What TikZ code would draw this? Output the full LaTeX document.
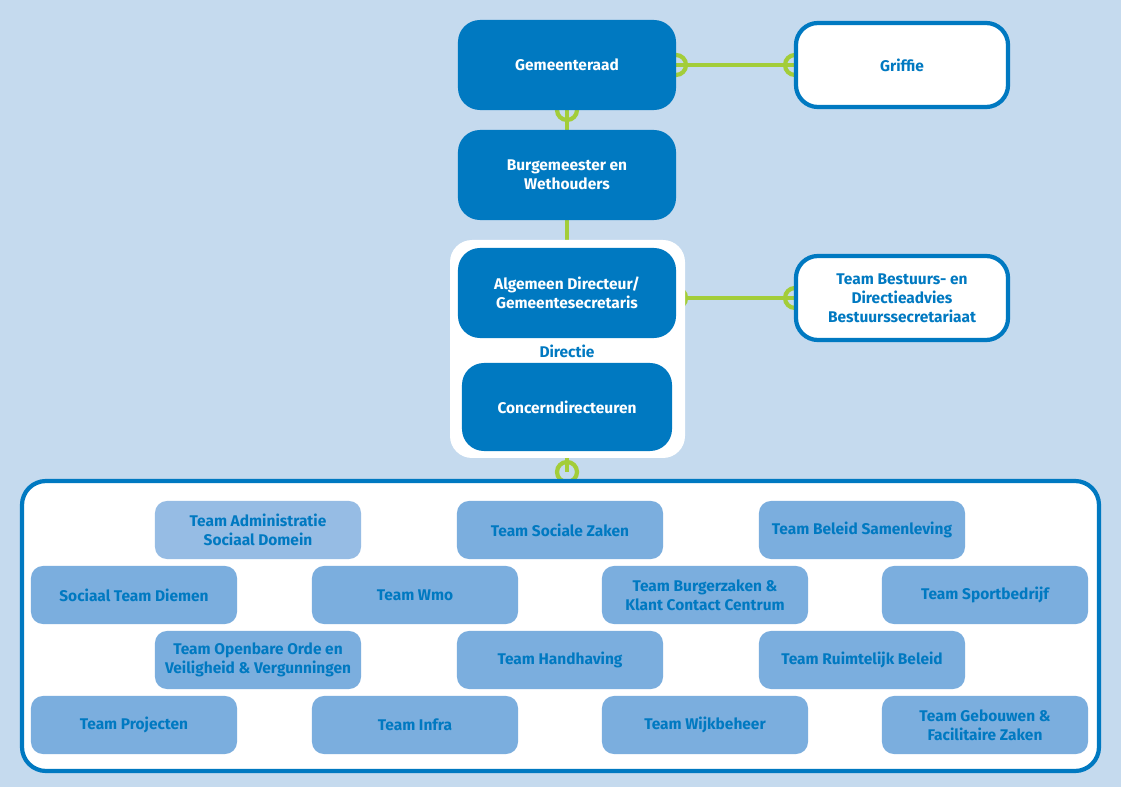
\documentclass[tikz,border=0pt]{standalone}
\usepackage{fontspec}
\setmainfont{Fira Sans}
\usetikzlibrary{positioning}
\definecolor{bgblue}{HTML}{C5DAEE}
\definecolor{darkblue}{HTML}{0079C1}
\definecolor{teamblue}{HTML}{7BAEDE}
\definecolor{adminblue}{HTML}{96BCE4}
\definecolor{limegreen}{HTML}{A3CD39}
\tikzset{
	bestuur/.style={rectangle, rounded corners=0.55cm, fill=darkblue, text=white, minimum width=5.45cm, minimum height=2.25cm, align=center, font=\bfseries\fontsize{11}{13.5}\selectfont},
	staf/.style={rectangle, rounded corners=0.55cm, fill=white, draw=darkblue, line width=3pt, text=darkblue, minimum width=5.3cm, minimum height=2.1cm, align=center, font=\bfseries\fontsize{11}{13.5}\selectfont},
	team/.style={rectangle, rounded corners=0.3cm, fill=teamblue, text=darkblue, minimum width=5.15cm, minimum height=1.45cm, align=center, font=\bfseries\fontsize{11}{13.5}\selectfont},
	lijn/.style={limegreen, line width=3pt},
	ring/.style={circle, draw=limegreen, line width=3pt, minimum size=0.5cm, inner sep=0pt}
}
\begin{document}
\begin{tikzpicture}[x=0.025cm, y=-0.025cm]
	\fill[bgblue] (0,0) rectangle (1121,787);
	\useasboundingbox (0,0) rectangle (1121,787);

	% verbindingen
	\coordinate (c1) at (567,110);
	\coordinate (c2) at (676,65);
	\coordinate (c3) at (795,65);
	\coordinate (c4) at (676,298);
	\coordinate (c5) at (795,298);
	\coordinate (c6) at (567,472);
	\draw[lijn] (c1) -- (567,250);
	\draw[lijn] (c2) -- (c3);
	\draw[lijn] (c4) -- (c5);
	\draw[lijn] (567,455) -- (c6);
	\foreach \c in {c1,c2,c3,c4,c5,c6}
		\node[ring] at (\c) {};

	% directie
	\fill[white, rounded corners=0.55cm] (450,240) rectangle (685,458);
	\node[bestuur] (gemeenteraad) at (567,65) {Gemeenteraad};
	\node[staf] (griffie) at (902,65) {Griffie};
	\node[bestuur] (college) at (567,175) {Burgemeester en\\Wethouders};
	\node[bestuur] (directeur) at (567,293) {Algemeen Directeur/\\Gemeentesecretaris};
	\node[text=darkblue, font=\bfseries\fontsize{11}{13.5}\selectfont] (directie) at (567,351) {Directie};
	\node[bestuur, minimum width=5.25cm, minimum height=2.2cm] (concern) at (567,407) {Concerndirecteuren};
	\node[staf] (bestuursadvies) at (902,298) {Team Bestuurs- en\\Directieadvies\\Bestuurssecretariaat};

	% teams
	\draw[darkblue, fill=white, line width=3pt, rounded corners=0.6cm] (22,481) rectangle (1099,771);
	\node[team, fill=adminblue] (administratie) at (258,530) {Team Administratie\\Sociaal Domein};
	\node[team] (sociale) at (560,530) {Team Sociale Zaken};
	\node[team] (samenleving) at (862,530) {Team Beleid Samenleving};
	\node[team] (sociaalteam) at (134,595) {Sociaal Team Diemen};
	\node[team] (wmo) at (415,595) {Team Wmo};
	\node[team] (burgerzaken) at (705,595) {Team Burgerzaken \&\\Klant Contact Centrum};
	\node[team] (sport) at (985,595) {Team Sportbedrijf};
	\node[team] (openbare) at (258,660) {Team Openbare Orde en\\Veiligheid \& Vergunningen};
	\node[team] (handhaving) at (560,660) {Team Handhaving};
	\node[team] (ruimtelijk) at (862,660) {Team Ruimtelijk Beleid};
	\node[team] (projecten) at (134,725) {Team Projecten};
	\node[team] (infra) at (415,725) {Team Infra};
	\node[team] (wijkbeheer) at (705,725) {Team Wijkbeheer};
	\node[team] (gebouwen) at (985,725) {Team Gebouwen \&\\Facilitaire Zaken};
\end{tikzpicture}
\end{document}
